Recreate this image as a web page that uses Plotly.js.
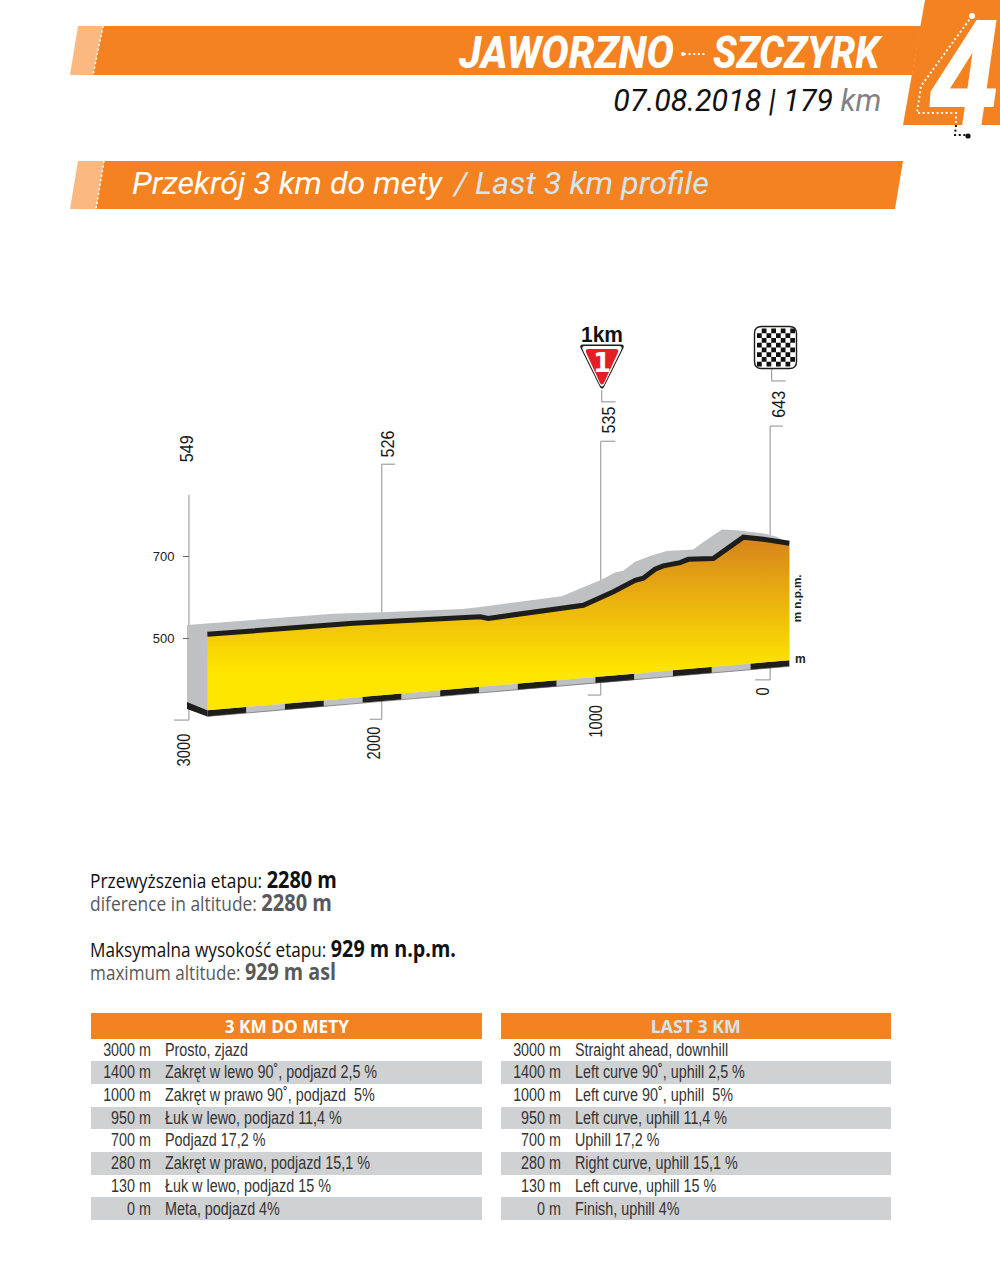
<!DOCTYPE html>
<html><head><meta charset="utf-8">
<script src="https://cdn.plot.ly/plotly-3.0.1.min.js"></script>
<style>html,body{margin:0;padding:0;background:#fff}#c{width:1000px;height:1288px}</style>
</head><body><div id="c"></div>
<script>
// ---------- data ----------
const profileDist = [3000,2249,1594,1552,1062,907,795,753,692,650,563,521,392,237,134,0];
const profileElev = [509,536,552,548,580,613,641,646,668,676,684,692,694,746,741,731];
const ridgeDist   = [3105,2352,2100,1682,1594,1173,1096,967,899,856,795,718,632,495,452,348,271,117,65,0];
const ridgeElev   = [532,559,563,571,576,602,617,643,660,664,686,700,712,716,731,765,763,754,747,731];
const roadDist    = [3000,2800,2600,2400,2200,2000,1800,1600,1400,1200,1000,800,600,400,200,0];
const roadBase    = [324,332,340,348,357,365,373,381,389,397,405,413,422,430,438,446];
const distLabels  = ['3000','2000','1000','0'];
const altLabels   = ['549','526','535','643'];
const poleDist    = [3095,2101,972,99];
const poleTop     = [849,924,980,1017];
const poleBottom  = [300,302,361,398];
const elevTicks   = [500,700];
const tableDist   = ['3000\u00a0m','1400\u00a0m','1000\u00a0m','950\u00a0m','700\u00a0m','280\u00a0m','130\u00a0m','0\u00a0m'];
const tablePl     = ['Prosto, zjazd','Zakręt w lewo 90˚, podjazd 2,5 %','Zakręt w prawo 90˚, podjazd  5%','Łuk w lewo, podjazd 11,4 %','Podjazd 17,2 %','Zakręt w prawo, podjazd 15,1 %','Łuk w lewo, podjazd 15 %','Meta, podjazd 4%'];
const tableEn     = ['Straight ahead, downhill','Left curve 90˚, uphill 2,5 %','Left curve 90˚, uphill  5%','Left curve, uphill 11,4 %','Uphill 17,2 %','Right curve, uphill 15,1 %','Left curve, uphill 15 %','Finish, uphill 4%'];

// ---------- style ----------
const ORANGE='#f58220', LIGHT='#fbb880', ICE='#d3e6ee', INK='#1d1d1b', GREY='#bfc0c2', POLE='#8f8f8f', ROWGREY='#d0d1d3';
const ARIAL='"Liberation Sans",Arial,sans-serif';
const HUMAN='"Open Sans",sans-serif';
const HEAD='Roboto,"Open Sans",sans-serif';
const W=1000,H=1288;
const px=x=>x/W, py=y=>1-y/H;
const P=(x,y)=>px(x).toFixed(5)+','+py(y).toFixed(5);
const poly=(pts)=>'M'+pts.map(p=>P(p[0],p[1])).join('L')+'Z';
const fillShape=(pts,color)=>({type:'path',xref:'paper',yref:'paper',path:poly(pts),fillcolor:color,line:{width:0},layer:'below'});
const dotted=(pts,color,w,d)=>({type:'path',xref:'paper',yref:'paper',path:'M'+pts.map(p=>P(p[0],p[1])).join('L'),fillcolor:'rgba(0,0,0,0)',line:{color,width:w||2,dash:d||'2px,2.6px'},layer:'above'});
const dot=(x,y,r,color)=>({type:'circle',xref:'paper',yref:'paper',x0:px(x-r),x1:px(x+r),y0:py(y+r),y1:py(y-r),fillcolor:color,line:{width:0},layer:'above'});

// ---------- traces ----------
const hookTop=[0,-68,-75,-66], hookBot=[77,62,67,77];
const poleX=[],poleY=[];
poleDist.forEach((d,i)=>{
  poleX.push(d,d,null,d+hookBot[i],d,null); poleY.push(poleTop[i],poleBottom[i],null,poleBottom[i],poleBottom[i],null);
  if(hookTop[i]){poleX.push(d,d+hookTop[i],null);poleY.push(poleTop[i],poleTop[i],null);}
});
[[967,1105,1076,-72],[91,1158,1127,-72]].forEach(h=>{poleX.push(h[0],h[0],h[0]+h[3],null);poleY.push(h[1],h[2],h[2],null);});

const blackX=[],blackY=[],greyX=[],greyY=[];
for(let i=0;i<roadDist.length-1;i++){
  const t=i%2?[greyX,greyY]:[blackX,blackY];
  t[0].push(roadDist[i],roadDist[i+1],roadDist[i+1],roadDist[i],null);
  t[1].push(roadBase[i],roadBase[i+1],roadBase[i+1]-15,roadBase[i]-15,null);
}
const last=roadBase[roadBase.length-1],first=roadBase[0];
const rowFill=tableDist.map((_,i)=>i%2?ROWGREY:'#fff');
const tbl=(x0,x1,col)=>({type:'table',domain:{x:[px(x0),px(x1)],y:[py(1221),py(1013)]},columnwidth:[67,x1-x0-67],
  header:{values:['',''],height:25.5,fill:{color:ORANGE},line:{width:0}},
  cells:{values:[tableDist,col],align:['right','left'],height:22.7,font:{family:ARIAL,size:17.5,color:'#333'},
   fill:{color:[rowFill]},line:{width:0}}});
const traces=[
 {name:'poles',x:poleX,y:poleY,mode:'lines',line:{color:POLE,width:1}},
 {name:'back',x:ridgeDist.concat([0,3000,3105]),y:ridgeElev.concat([last,first,344]),mode:'lines',fill:'toself',fillcolor:GREY,line:{width:0}},
 {name:'side',x:[3105,3000,3000,3105],y:[344,first,first-15,327],mode:'lines',fill:'toself',fillcolor:INK,line:{width:0}},
 {name:'road light',x:greyX,y:greyY,mode:'lines',fill:'toself',fillcolor:GREY,line:{width:0}},
 {name:'road dark',x:blackX,y:blackY,mode:'lines',fill:'toself',fillcolor:INK,line:{width:0}},
 {name:'road edge',x:[roadDist[0],roadDist[15]],y:[first-15,last-15],mode:'lines',line:{color:'#555',width:0.6}},
 {name:'profile',x:profileDist.concat([0,3000]),y:profileElev.concat([last,first]),mode:'lines',fill:'toself',
  fillgradient:{type:'vertical',start:780,stop:420,colorscale:[[0,'#d2791f'],[1,'#ffe600']]},line:{width:0}},
 {name:'profile line',x:profileDist,y:profileElev,mode:'lines',line:{color:INK,width:5}},
 tbl(91,482,tablePl), tbl(501,891,tableEn)
];

// ---------- page furniture ----------
const shapes=[
 fillShape([[78,26],[103,26],[93,75],[70,75]],LIGHT),
 fillShape([[103,26],[921,26],[912,75],[93,75]],ORANGE),
 fillShape([[925,0],[1000,0],[1000,125],[903,125]],ORANGE),
 fillShape([[78,161],[104,161],[96,209],[70,209]],LIGHT),
 fillShape([[104,161],[903,161],[895,209],[96,209]],ORANGE),
 dotted([[103,26],[93,75]],'#fff',1.6),
 dotted([[104,161],[96,209]],'#fff',1.6),
 dotted([[972,16],[921,86],[917,113],[956,113],[956,125]],'#fff'),
 dotted([[956,125],[955,135],[968,135]],'#111'),
 dot(972,16,3,'#fff'), dot(968,136,2.6,'#111'),
 dotted([[684,54],[705,54]],'#fff'), dot(683,54,2,'#fff')
];
// flag
let flagPath='';
{const u=4.75,x0=757,y0=328.5;
 for(let r=0;r<8;r++)for(let c=0;c<8;c++){if((r+c)%2==1){flagPath+=poly([[x0+c*u,y0+r*u],[x0+(c+1)*u,y0+r*u],[x0+(c+1)*u,y0+(r+1)*u],[x0+c*u,y0+(r+1)*u]]);}}}
const rr=(x0,y0,x1,y1,r)=>'M'+P(x0+r,y0)+'L'+P(x1-r,y0)+'Q'+P(x1,y0)+' '+P(x1,y0+r)+'L'+P(x1,y1-r)+'Q'+P(x1,y1)+' '+P(x1-r,y1)+'L'+P(x0+r,y1)+'Q'+P(x0,y1)+' '+P(x0,y1-r)+'L'+P(x0,y0+r)+'Q'+P(x0,y0)+' '+P(x0+r,y0)+'Z';
shapes.push({type:'path',xref:'paper',yref:'paper',path:rr(754.5,326.5,796.5,368.5,7),fillcolor:'#fff',line:{color:INK,width:1.4},layer:'above'});
shapes.push({type:'path',xref:'paper',yref:'paper',path:flagPath,fillcolor:'#111',line:{width:0},layer:'above'});
// km triangle
const tri=(a,c,b,f,col)=>{const e=(a+c)/2;
 return {type:'path',xref:'paper',yref:'paper',fillcolor:col,line:{width:0},layer:'above',
  path:'M'+P(a+4,b)+'L'+P(c-4,b)+'Q'+P(c,b)+' '+P(c-1.8,b+4)+'L'+P(e+2,f-3)+'Q'+P(e,f)+' '+P(e-2,f-3)+'L'+P(a+1.8,b+4)+'Q'+P(a,b)+' '+P(a+4,b)+'Z'};};
shapes.push(tri(579,625,344.5,390,INK));
shapes.push(tri(581,623,346,388,'#fff'));
shapes.push(tri(584.5,619.5,349,386,'#e31e24'));

// ---------- texts: every entry may carry a target width, see the fitting step below ----------
const annotations=[],fits=[];
const note=(text,x,y,o,fit)=>{annotations.push(Object.assign({text,x:px(x),y:py(y),xref:'paper',yref:'paper',showarrow:false,xanchor:'left',yanchor:'middle',borderpad:0},o||{}));fits.push(fit||0);};
const hd=(size,color,weight)=>({family:HEAD,size,color,style:'italic',weight:weight||400});
note('JAWORZNO',457,52,{font:hd(45,'#fff',800)},216);
note('SZCZYRK',712,52,{font:hd(45,'#fff',800)},170);
note('07.08.2018 | 179 <span style="fill:#808285">km</span>',882,100,{xanchor:'right',font:hd(32,'#111')},268);
note('Przekrój 3 km do mety',131,184,{font:hd(31,'#fff')},312);
note('/ Last 3 km profile',451,184,{font:hd(31,ICE)},257);
note('4',927,77,{font:hd(156,'#fff',800)},72);
note('<b>1km</b>',601.5,334,{xanchor:'center',font:{family:ARIAL,size:22,color:'#111'}},42);
note('<b>1</b>',601.5,363,{xanchor:'center',font:{family:'"DejaVu Sans"',size:26,color:'#fff'}});
note('<b>m n.p.m.</b>',797,599,{textangle:-90,xanchor:'center',font:{family:ARIAL,size:11.5,color:'#222'}},48);
note('<b>m</b>',800,659,{xanchor:'center',font:{family:ARIAL,size:12,color:'#222'}});
const big=s=>'<span style="font-size:23px;font-weight:bold">'+s+'</span>';
note('Przewyższenia etapu: '+big('2280 m'),89,878.5,{font:{family:HUMAN,size:20,color:'#111'}},247);
note('diference in altitude: '+big('2280 m'),89,901.5,{font:{family:HUMAN,size:20,color:'#58595b'}},242);
note('Maksymalna wysokość etapu: '+big('929 m n.p.m.'),89,947.5,{font:{family:HUMAN,size:20,color:'#111'}},366);
note('maximum altitude: '+big('929 m asl'),89,970.5,{font:{family:HUMAN,size:20,color:'#58595b'}},246);
note('<b>3 KM DO METY</b>',286.5,1026,{xanchor:'center',font:{family:HUMAN,size:18,color:'#fff'}},125);
note('<b>LAST 3 KM</b>',696,1026,{xanchor:'center',font:{family:HUMAN,size:18,color:ICE}},90);
const rot={textangle:-90,xanchor:'center',yanchor:'middle',font:{family:ARIAL,size:18,color:'#1a1a1a'}};
const altShift=[[-2,-46],[6,-20],[8,-21],[9,-22]], distShift=[[-5.5,29.5],[-8,24],[-5,26.5],[-7,11.5]];
poleDist.forEach((d,i)=>{
 annotations.push(Object.assign({text:altLabels[i],x:d,y:poleTop[i],xref:'x',yref:'y',showarrow:false,xshift:altShift[i][0],yshift:-altShift[i][1]},rot)); fits.push(27);
 annotations.push(Object.assign({text:distLabels[i],x:d,y:poleBottom[i],xref:'x',yref:'y',showarrow:false,xshift:distShift[i][0],yshift:-distShift[i][1]},rot)); fits.push(distLabels[i].length*8.2);
});

const layout={width:W,height:H,margin:{l:0,r:0,t:0,b:0},paper_bgcolor:'#fff',plot_bgcolor:'#fff',showlegend:false,
 xaxis:{range:[4069,-1086],visible:false,fixedrange:true},
 yaxis:{range:[-1085,2056],anchor:'free',position:0.189,showgrid:false,zeroline:false,showline:false,fixedrange:true,
  tickmode:'array',tickvals:elevTicks,ticktext:elevTicks.map(String),ticks:'outside',ticklen:6,tickcolor:'#666',tickwidth:1,
  ticklabelstandoff:6,tickfont:{family:ARIAL,size:13,color:'#222'}},
 shapes,annotations};

// condense real text horizontally, keeping it anchored where the reference has it
function squeeze(el,sx,mode,dx,dy){
  const b=el.getBBox(); const ax=mode==='left'?b.x:mode==='right'?b.x+b.width:b.x+b.width/2;
  const prev=el.getAttribute('transform')||'';
  el.setAttribute('transform',prev+' translate('+(ax+(dx||0))+','+(dy||0)+') scale('+sx+',1) translate('+(-ax)+',0)');
}
Plotly.newPlot('c',traces,layout,{displayModeBar:false,staticPlot:true}).then(gd=>{
  gd.querySelectorAll('.annotation').forEach(g=>{
    const i=+g.getAttribute('data-index'); if(!fits[i]) return;
    const t=g.querySelector('text.annotation-text'); if(!t) return;
    const a=annotations[i]; const mode=a.textangle?'center':a.xanchor;
    squeeze(t,fits[i]/t.getBBox().width,mode);
  });
  gd.querySelectorAll('.table .cell-text').forEach(t=>{
    const s=t.textContent; if(!s) return;
    const isDist=/^\d+\s?m$/.test(s);
    squeeze(t,0.82,isDist?'right':'left',isDist?1:-1,-4);
  });
});
</script></body></html>
